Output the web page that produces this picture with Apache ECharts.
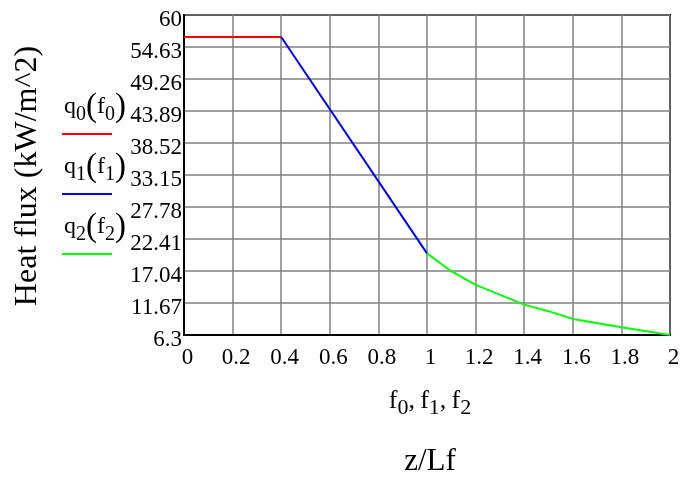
<!DOCTYPE html>
<html>
<head>
<meta charset="utf-8">
<title>Heat flux along z/Lf</title>
<script src="https://cdn.jsdelivr.net/npm/echarts@6/dist/echarts.min.js"></script>
<style>
  html, body { margin: 0; padding: 0; background: #fff; }
  #chart { width: 685px; height: 477px; }
</style>
</head>
<body>
<div id="chart"></div>
<script>
// Heat flux profile, three segments q0(f0), q1(f1), q2(f2) over z/Lf
const q0Points = [[0, 56.3], [0.4, 56.3]];
const q1Points = [[0.4, 56.3], [1.0, 20.0]];
const q2Points = [[1.0, 20.0], [1.1, 17.0], [1.2, 14.7], [1.4, 11.4], [1.5, 10.3], [1.6, 9.0], [1.8, 7.6], [2.0, 6.3]];

const yTickValues = [6.3, 11.67, 17.04, 22.41, 27.78, 33.15, 38.52, 43.89, 49.26, 54.63, 60];
const xTickValues = [0, 0.2, 0.4, 0.6, 0.8, 1, 1.2, 1.4, 1.6, 1.8, 2];

const seriesNames = ['q0(f0)', 'q1(f1)', 'q2(f2)'];
const seriesColors = ['#ff0000', '#0000ff', '#00ff00'];

const FONT = 'Liberation Serif';

const chart = echarts.init(document.getElementById('chart'), null, { renderer: 'canvas' });

// rich-text styles: t = main glyphs, s = subscript, p = tall parentheses
function subRich(base, subSize, drop, parenSize) {
  return {
    t: { fontFamily: FONT, fontSize: base, color: '#000' },
    s: { fontFamily: FONT, fontSize: subSize, color: '#000', padding: [drop * 2, 0, 0, 0] },
    p: { fontFamily: FONT, fontSize: parenSize, color: '#000' }
  };
}

function legendText(i) {
  return '{t|q}{s|' + i + '}{p|(}{t|f}{s|' + i + '}{p|)}';
}

const legendGraphics = [];
seriesNames.forEach((name, i) => {
  const lineY = 134 + i * 60;
  legendGraphics.push({
    type: 'text',
    x: 64,
    y: lineY - 27,
    style: { text: legendText(i), rich: subRich(24, 20, 8, 33), align: 'left', verticalAlign: 'middle' }
  });
  legendGraphics.push({
    type: 'line',
    shape: { x1: 62, y1: lineY, x2: 112, y2: lineY },
    style: { stroke: seriesColors[i], lineWidth: 2 }
  });
});

const option = {
  animation: false,
  backgroundColor: '#fff',
  grid: {
    left: 184, top: 15, right: 15, bottom: 142,
    show: true, borderColor: '#000', borderWidth: 2
  },
  xAxis: {
    type: 'value',
    min: 0, max: 2, interval: 0.2,
    axisLine: { show: true, lineStyle: { color: '#000', width: 2 } },
    axisTick: { show: false },
    axisLabel: {
      fontFamily: FONT, fontSize: 23, color: '#000', margin: 11,
      padding: [0, 0, 0, 7],
      formatter: v => String(Math.round(v * 10) / 10)
    },
    splitLine: { show: true, lineStyle: { color: '#808080', width: 1.5 } }
  },
  yAxis: {
    type: 'value',
    min: 6.3, max: 60,
    axisLine: { show: true, lineStyle: { color: '#000', width: 2 } },
    axisTick: { show: false, customValues: yTickValues },
    axisLabel: {
      customValues: yTickValues,
      fontFamily: FONT, fontSize: 23, color: '#000', margin: 2,
      verticalAlign: 'top', lineHeight: 10,
      formatter: v => String(v)
    },
    splitLine: { show: true, lineStyle: { color: '#808080', width: 1.5 } }
  },
  series: [q0Points, q1Points, q2Points].map((pts, i) => ({
    name: seriesNames[i],
    type: 'line',
    data: pts,
    showSymbol: false,
    lineStyle: { color: seriesColors[i], width: 2 },
    z: 3
  })),
  graphic: [
    {
      type: 'text',
      x: 28, y: 176,
      rotation: Math.PI / 2,
      style: {
        text: 'Heat flux (kW/m^2)',
        fontFamily: FONT, fontSize: 32, fill: '#000',
        align: 'center', verticalAlign: 'middle'
      }
    },
    {
      type: 'text',
      x: 430, y: 401,
      style: {
        text: '{t|f}{s|0}{t|,\u2009f}{s|1}{t|,\u2009f}{s|2}',
        rich: subRich(26, 22, 7, 26),
        align: 'center', verticalAlign: 'middle'
      }
    },
    {
      type: 'text',
      x: 430, y: 462,
      style: {
        text: 'z/Lf',
        fontFamily: FONT, fontSize: 31, fill: '#000',
        align: 'center', verticalAlign: 'middle'
      }
    }
  ].concat(legendGraphics)
};

chart.setOption(option);
</script>
</body>
</html>
